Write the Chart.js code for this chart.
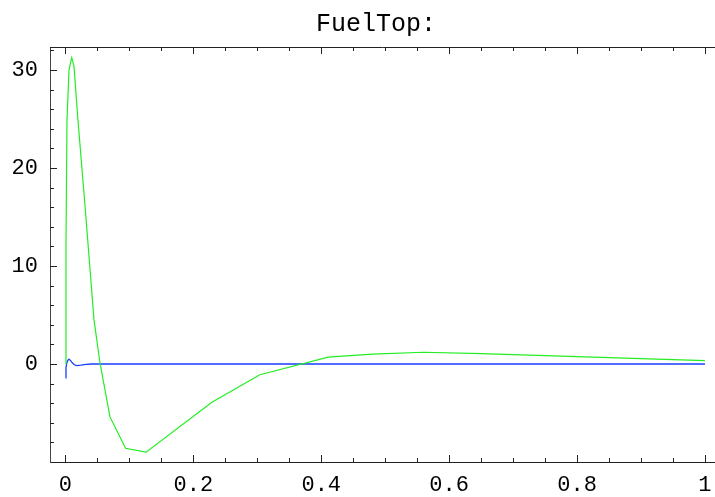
<!DOCTYPE html>
<html>
<head>
<meta charset="utf-8">
<script src="https://cdn.jsdelivr.net/npm/chart.js@4.4.0/dist/chart.umd.min.js"></script>
<style>
  html, body { margin: 0; padding: 0; background: #fff; }
  #wrap { width: 715px; height: 497px; }
</style>
</head>
<body>
<div id="wrap"><canvas id="c" width="715" height="497"></canvas></div>
<script>
// FuelTop response curves
const greenX = [0, 0.0008, 0.0023, 0.0055, 0.0097, 0.0133, 0.0195, 0.0305, 0.0446, 0.054, 0.0696, 0.094, 0.126, 0.229, 0.304, 0.411, 0.48, 0.56, 0.65, 0.8, 0.9, 1.0];
const greenY = [0, 12, 24.7, 30.0, 31.26, 30.4, 24.9, 16.2, 4.5, 0.1, -5.4, -8.6, -9.0, -3.9, -1.1, 0.7, 1.0, 1.2, 1.05, 0.75, 0.55, 0.35];

const blueX = [0, 0.0008, 0.002, 0.0035, 0.0055, 0.008, 0.011, 0.014, 0.0175, 0.024, 0.032, 0.04, 1.0];
const blueY = [-1.4, -0.4, 0.1, 0.35, 0.5, 0.35, 0.1, -0.08, -0.17, -0.12, -0.03, 0, 0];

const xTickValues = [0, 0.2, 0.4, 0.6, 0.8, 1];
const xTickLabels = ["0", "0.2", "0.4", "0.6", "0.8", "1"];
const yTickValues = [0, 10, 20, 30];
const yTickLabels = ["0", "10", "20", "30"];

const titleText = "FuelTop:";
const monoFont = "'Liberation Mono', 'DejaVu Sans Mono', monospace";

function toPoints(xs, ys) {
    return xs.map((x, i) => ({ x: x, y: ys[i] }));
}

// frame top edge, inward tick marks and the title
const framePlugin = {
    id: "frame",
    afterDraw(chart) {
        const { ctx, chartArea } = chart;
        const xs = chart.scales.x;
        const ys = chart.scales.y;
        ctx.save();
        ctx.strokeStyle = "#222";
        ctx.lineWidth = 1;

        ctx.beginPath();
        ctx.moveTo(chartArea.left, chartArea.top + 0.5);
        ctx.lineTo(chartArea.right, chartArea.top + 0.5);
        ctx.stroke();

        ctx.beginPath();
        for (let i = 0; i <= 20; i++) {
            const px = Math.round(xs.getPixelForValue(i * 0.05)) + 0.5;
            const len = i % 4 === 0 ? 7 : 4;
            ctx.moveTo(px, chartArea.bottom);
            ctx.lineTo(px, chartArea.bottom - len);
            ctx.moveTo(px, chartArea.top);
            ctx.lineTo(px, chartArea.top + len);
        }
        for (let v = -8; v <= 32; v += 2) {
            const py = Math.round(ys.getPixelForValue(v)) + 0.5;
            const len = v % 10 === 0 ? 7 : 4;
            ctx.moveTo(chartArea.left, py);
            ctx.lineTo(chartArea.left + len, py);
        }
        ctx.stroke();

        ctx.fillStyle = "#000";
        ctx.font = "25px " + monoFont;
        ctx.textAlign = "center";
        ctx.textBaseline = "middle";
        ctx.fillText(titleText, 376, 24);
        ctx.restore();
    }
};

new Chart(document.getElementById("c"), {
    type: "scatter",
    data: {
        datasets: [
            {
                data: toPoints(greenX, greenY),
                showLine: true,
                borderColor: "#22ee22",
                borderWidth: 1.2,
                pointRadius: 0,
                tension: 0
            },
            {
                data: toPoints(blueX, blueY),
                showLine: true,
                borderColor: "#1a3cff",
                borderWidth: 1.3,
                pointRadius: 0,
                tension: 0
            }
        ]
    },
    options: {
        responsive: false,
        animation: false,
        layout: { padding: { top: 47, right: 0, left: 0, bottom: 0 } },
        plugins: {
            legend: { display: false },
            tooltip: { enabled: false }
        },
        scales: {
            x: {
                type: "linear",
                min: -0.0242,
                max: 1.0157,
                grid: { display: false, drawTicks: false },
                border: { display: true, color: "#222", width: 1 },
                afterBuildTicks: s => { s.ticks = xTickValues.map(v => ({ value: v })); },
                afterFit: s => { s.height = 35; s.paddingLeft = 0; s.paddingRight = 0; },
                ticks: {
                    padding: 10,
                    maxRotation: 0,
                    color: "#000",
                    font: { family: monoFont, size: 22 },
                    callback: v => xTickLabels[xTickValues.indexOf(v)]
                }
            },
            y: {
                type: "linear",
                min: -10.0,
                max: 32.35,
                grid: { display: false, drawTicks: false },
                border: { display: true, color: "#444", width: 1 },
                afterBuildTicks: s => { s.ticks = yTickValues.map(v => ({ value: v })); },
                afterFit: s => { s.width = 50; s.paddingTop = 0; s.paddingBottom = 0; },
                ticks: {
                    padding: 12,
                    color: "#000",
                    font: { family: monoFont, size: 22 },
                    callback: v => yTickLabels[yTickValues.indexOf(v)]
                }
            }
        }
    },
    plugins: [framePlugin]
});
</script>
</body>
</html>
